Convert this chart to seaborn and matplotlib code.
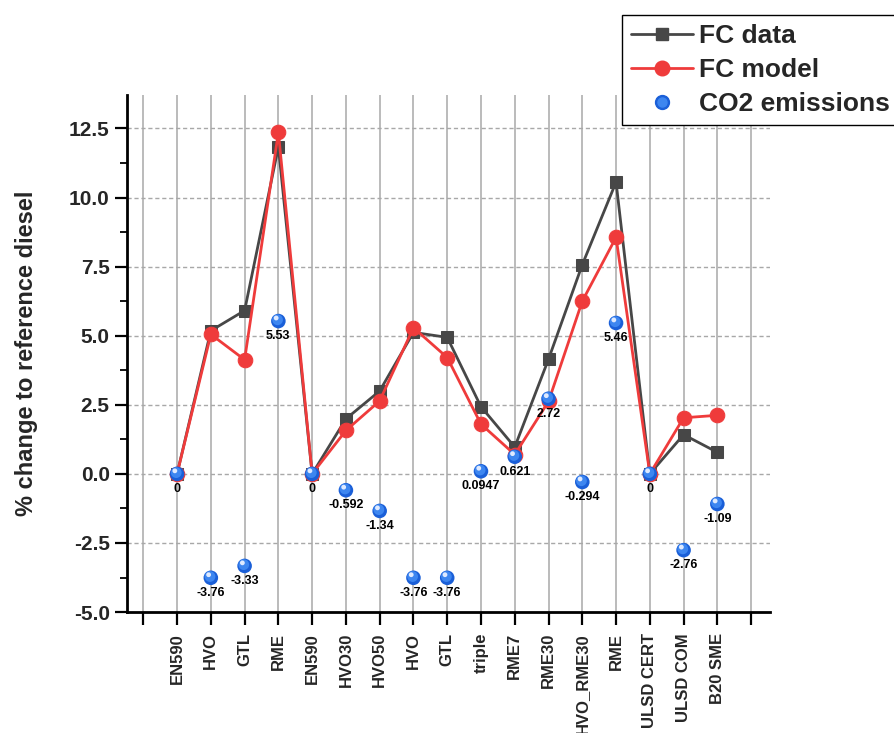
import numpy as np
import pandas as pd
import matplotlib
matplotlib.use("Agg")
import matplotlib.pyplot as plt
import seaborn as sns
from matplotlib.ticker import MultipleLocator
from matplotlib.lines import Line2D
from matplotlib.legend_handler import HandlerTuple
from matplotlib.transforms import ScaledTranslation

categories = ["EN590", "HVO", "GTL", "RME", "EN590", "HVO30", "HVO50", "HVO", "GTL",
              "triple", "RME7", "RME30", "HVO_RME30", "RME", "ULSD CERT", "ULSD COM", "B20 SME"]
fc_data = [0, 5.18, 5.91, 11.83, 0, 1.99, 3.0, 5.12, 4.94, 2.43, 0.97, 4.15, 7.57, 10.56, 0, 1.42, 0.78]
fc_model = [0, 5.05, 4.13, 12.36, 0, 1.57, 2.64, 5.29, 4.21, 1.80, 0.70, 2.62, 6.25, 8.56, 0, 2.03, 2.12]
co2 = [0, -3.76, -3.33, 5.53, 0, -0.592, -1.34, -3.76, -3.76, 0.0947, 0.621, 2.72, -0.294, 5.46, 0, -2.76, -1.09]
co2_labels = ["0", "-3.76", "-3.33", "5.53", "0", "-0.592", "-1.34", "-3.76", "-3.76", "0.0947",
              "0.621", "2.72", "-0.294", "5.46", "0", "-2.76", "-1.09"]

sns.set_theme(style="white")
plt.rcParams["font.family"] = ["Liberation Sans", "DejaVu Sans"]
plt.rcParams["font.weight"] = "bold"

pos = np.arange(1, len(categories) + 1)
df = pd.DataFrame({"pos": pos, "cat": categories, "fc_data": fc_data,
                   "fc_model": fc_model, "co2": co2})

fig = plt.figure(figsize=(8.95, 7.33), dpi=100)
ax = fig.add_axes([0.142, 0.165, 0.718, 0.705])

GRAY = "#474747"
RED = "#ef3b3b"
BLUE = "#1a5fd8"
BLUE2 = "#3d86f0"

sns.lineplot(data=df, x="pos", y="fc_data", ax=ax, color=GRAY, marker="s", markersize=9,
             markeredgecolor=GRAY, linewidth=2, sort=False, zorder=4)
sns.lineplot(data=df, x="pos", y="fc_model", ax=ax, color=RED, marker="o", markersize=10.5,
             markeredgecolor=RED, linewidth=2, sort=False, zorder=5)

# sphere-like blue markers
sns.scatterplot(data=df, x="pos", y="co2", ax=ax, color=BLUE, s=110, edgecolor="none", zorder=6)
n0 = len(ax.collections)
sns.scatterplot(data=df, x="pos", y="co2", ax=ax, color=BLUE2, s=60, edgecolor="none", zorder=7)
sns.scatterplot(data=df, x="pos", y="co2", ax=ax, color="#dfeaff", s=12, edgecolor="none", zorder=8)
offs = [ScaledTranslation(-0.6 / 72, 0.9 / 72, fig.dpi_scale_trans),
        ScaledTranslation(-1.6 / 72, 2.2 / 72, fig.dpi_scale_trans)]
for coll, off in zip(ax.collections[n0:n0 + 2], offs):
    coll.set_offset_transform(ax.transData + off)

for x, y, t in zip(pos, co2, co2_labels):
    ax.annotate(t, (x, y), xytext=(0, -6.5), textcoords="offset points", ha="center", va="top",
                fontsize=9, fontweight="bold", color="black", zorder=9)

ax.set_xlim(-0.48, 18.55)
ax.set_ylim(-5, 13.7)
ax.set_xticks(np.arange(0, 19))
ax.set_xticklabels([""] + categories + [""], rotation=90, fontsize=12, fontweight="bold")
ax.yaxis.set_minor_locator(MultipleLocator(1.25))
ax.set_yticks(np.arange(-5, 13.0, 2.5))
ax.set_yticklabels([f"{v:.1f}" for v in np.arange(-5, 13.0, 2.5)], fontsize=15, fontweight="bold")
ax.set_xlabel("")
ax.set_ylabel("% change to reference diesel", fontsize=17, fontweight="bold", labelpad=22)

for s in ["top", "right"]:
    ax.spines[s].set_visible(False)
for s in ["left", "bottom"]:
    ax.spines[s].set_color("black")
    ax.spines[s].set_linewidth(2)

ax.tick_params(axis="both", which="major", direction="out", length=9, width=1.6, color="black",
               left=True, bottom=True)
ax.tick_params(axis="y", which="minor", direction="out", length=5, width=1.3, color="black", left=True)
ax.tick_params(axis="x", pad=6)

for x in np.arange(0, 19):
    ax.axvline(x, color="#a8a8a8", linewidth=1.1, zorder=1)
for y in np.arange(-2.5, 13.0, 2.5):
    ax.axhline(y, color="#a8a8a8", linewidth=1.0, linestyle=(0, (3, 2)), zorder=1)

h1 = Line2D([], [], color=GRAY, marker="s", markersize=9, linewidth=2)
h2 = Line2D([], [], color=RED, marker="o", markersize=10.5, linewidth=2)
hb = Line2D([], [], color=BLUE, marker="o", markersize=10, linestyle="none")
hb2 = Line2D([], [], color=BLUE2, marker="o", markersize=6.5, linestyle="none")
leg = fig.legend([h1, h2, (hb, hb2)], ["FC data", "FC model", "CO2 emissions"],
                 loc="upper left", bbox_to_anchor=(622 / 895, 1 - 15 / 733),
                 handler_map={tuple: HandlerTuple(ndivide=1, pad=0)},
                 prop={"size": 19, "weight": "bold"}, frameon=True, fancybox=False,
                 edgecolor="black", framealpha=1, borderpad=0.35, labelspacing=0.37,
                 handlelength=2.35, handletextpad=0.2, borderaxespad=0)
leg.get_frame().set_linewidth(1.0)

fig.savefig("out.png", dpi=100)
